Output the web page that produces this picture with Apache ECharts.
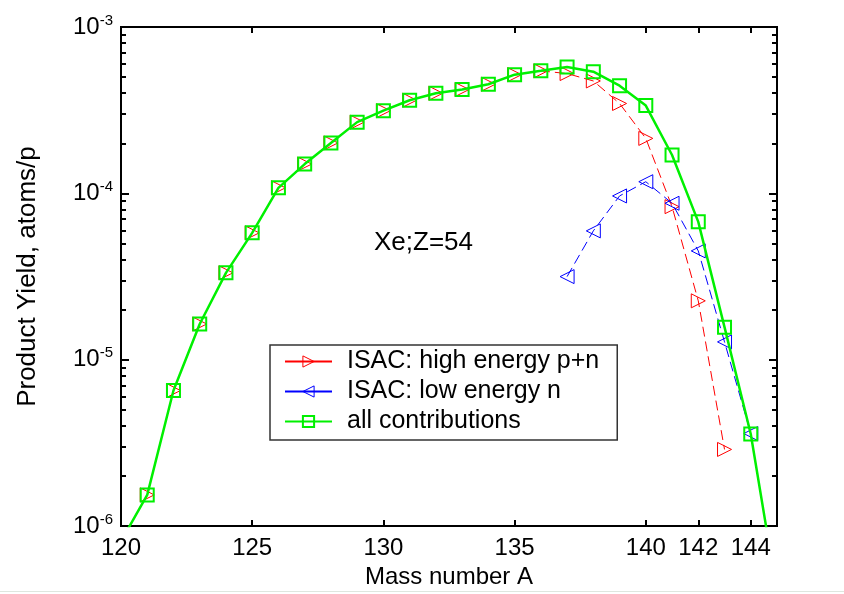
<!DOCTYPE html>
<html>
<head>
<meta charset="utf-8">
<script src="https://cdn.jsdelivr.net/npm/echarts@6/dist/echarts.min.js"></script>
<style>
  html, body { margin: 0; padding: 0; background: #fff; }
  #chart { width: 844px; height: 594px; }
</style>
</head>
<body>
<div id="chart"></div>
<script>
// Xe (Z=54) product yields per incident proton, by mass number
const massAll = [120, 121, 122, 123, 124, 125, 126, 127, 128, 129, 130, 131, 132,
                 133, 134, 135, 136, 137, 138, 139, 140, 141, 142, 143, 144, 145];
const yieldAll = [8.1e-7, 1.54e-6, 6.53e-6, 1.64e-5, 3.33e-5, 5.79e-5, 1.08e-4, 1.50e-4,
                  2.01e-4, 2.68e-4, 3.14e-4, 3.63e-4, 4.00e-4, 4.21e-4, 4.53e-4, 5.17e-4,
                  5.45e-4, 5.75e-4, 5.39e-4, 4.44e-4, 3.37e-4, 1.70e-4, 6.74e-5, 1.57e-5,
                  3.58e-6, 4.0e-7];

const massHigh = [121, 122, 123, 124, 125, 126, 127, 128, 129, 130, 131, 132,
                  133, 134, 135, 136, 137, 138, 139, 140, 141, 142, 143];
const yieldHigh = [1.54e-6, 6.53e-6, 1.64e-5, 3.33e-5, 5.79e-5, 1.08e-4, 1.50e-4, 2.01e-4,
                   2.68e-4, 3.14e-4, 3.63e-4, 4.00e-4, 4.21e-4, 4.53e-4, 5.17e-4, 5.45e-4,
                   5.25e-4, 4.74e-4, 3.47e-4, 2.14e-4, 8.32e-5, 2.26e-5, 2.89e-6];

const massLow = [137, 138, 139, 140, 141, 142, 143, 144];
const yieldLow = [3.16e-5, 5.95e-5, 9.65e-5, 1.175e-4, 8.72e-5, 4.51e-5, 1.28e-5, 3.6e-6];

const xTicks = [120, 125, 130, 135, 140, 142, 144];
const yDecades = [1e-6, 1e-5, 1e-4, 1e-3];

const seriesNames = ['ISAC: high energy p+n', 'ISAC: low energy n', 'all contributions'];
const annotation = 'Xe;Z=54';

// minor log ticks 2..9 inside each decade
const yMinor = [];
for (let d = 0; d < yDecades.length - 1; d++) {
  for (let k = 2; k <= 9; k++) yMinor.push(k * yDecades[d]);
}

const pairs = (xs, ys) => xs.map((x, i) => [x, ys[i]]);
const FONT = '"Liberation Sans", Arial, sans-serif';
const RED = '#ff0000', BLUE = '#0000ff', GREEN = '#00f000';
const HOLLOW = 'rgba(255,255,255,0)';

const supFormatter = (v) => {
  const e = Math.round(Math.log10(v));
  return '{b|10}{s|' + e + '}';
};

function yAxisDef(position, ticks, len, withLabels, name) {
  return {
    type: 'log', logBase: 10, min: 1e-6, max: 1e-3, position,
    gridIndex: 0,
    name: name || '',
    nameLocation: 'middle',
    nameGap: 80,
    nameTextStyle: { fontFamily: FONT, fontSize: 26, color: '#000' },
    axisLine: { show: false },
    splitLine: { show: false },
    axisTick: { show: true, inside: true, length: len, customValues: ticks,
                lineStyle: { color: '#000', width: 2 } },
    axisLabel: {
      show: withLabels, customValues: ticks, margin: 8,
      formatter: supFormatter,
      rich: {
        b: { fontFamily: FONT, fontSize: 24, color: '#000', lineHeight: 28 },
        s: { fontFamily: FONT, fontSize: 15, color: '#000', verticalAlign: 'top', padding: [0, 0, 12, 0] }
      }
    }
  };
}

function xAxisDef(position, withLabels, name) {
  return {
    type: 'value', min: 120, max: 145, position,
    name: name || '',
    nameLocation: 'middle',
    nameGap: 36,
    nameTextStyle: { fontFamily: FONT, fontSize: 24, color: '#000' },
    axisLine: { show: false },
    splitLine: { show: false },
    axisTick: { show: true, inside: true, length: 6, customValues: xTicks,
                lineStyle: { color: '#000', width: 2 } },
    axisLabel: { show: withLabels, customValues: xTicks, margin: 10,
                 fontFamily: FONT, fontSize: 24, color: '#000' }
  };
}

const chart = echarts.init(document.getElementById('chart'), null, { renderer: 'canvas' });

chart.setOption({
  backgroundColor: '#fff',
  animation: false,
  grid: {
    left: 121, right: 67, top: 27, bottom: 67,
    show: true, borderColor: '#000', borderWidth: 2, backgroundColor: 'transparent'
  },
  xAxis: [
    xAxisDef('bottom', true, 'Mass number A'),
    xAxisDef('top', false)
  ],
  yAxis: [
    yAxisDef('left', yDecades, 8, true, 'Product Yield, atoms/p'),
    yAxisDef('left', yMinor, 5, false),
    yAxisDef('right', yDecades, 8, false),
    yAxisDef('right', yMinor, 5, false)
  ],
  legend: {
    left: 270, top: 345,
    orient: 'vertical',
    backgroundColor: '#fff',
    borderColor: '#333', borderWidth: 1.5,
    padding: [4, 18, 6, 14],
    itemGap: 5,
    itemWidth: 47, itemHeight: 14,
    textStyle: { fontFamily: FONT, fontSize: 25, color: '#000', padding: [0, 0, 0, 10] },
    lineStyle: { type: 'solid' },
    data: [
      { name: seriesNames[0], itemStyle: { color: HOLLOW, borderColor: RED, borderWidth: 1 } },
      { name: seriesNames[1], itemStyle: { color: HOLLOW, borderColor: BLUE, borderWidth: 1 } },
      { name: seriesNames[2], itemStyle: { color: HOLLOW, borderColor: GREEN, borderWidth: 2 } }
    ]
  },
  graphic: [
    { type: 'text', left: 374, top: 230,
      style: { text: annotation, fontFamily: FONT, fontSize: 26, fill: '#000' } },
    { type: 'rect', left: 0, top: 591, shape: { width: 844, height: 1 },
      style: { fill: '#dfe6df' } }
  ],
  series: [
    {
      name: seriesNames[0], type: 'line', xAxisIndex: 0, yAxisIndex: 0,
      data: pairs(massHigh, yieldHigh),
      symbol: 'triangle', symbolSize: 14, symbolRotate: -90,
      lineStyle: { color: RED, width: 1, type: [10, 5] },
      itemStyle: { color: HOLLOW, borderColor: RED, borderWidth: 1 },
      showAllSymbol: true, clip: true, z: 2,
      emphasis: { disabled: true }
    },
    {
      name: seriesNames[1], type: 'line', xAxisIndex: 0, yAxisIndex: 0,
      data: pairs(massLow, yieldLow),
      symbol: 'triangle', symbolSize: 14, symbolRotate: 90,
      lineStyle: { color: BLUE, width: 1, type: [10, 5] },
      itemStyle: { color: HOLLOW, borderColor: BLUE, borderWidth: 1 },
      showAllSymbol: true, clip: true, z: 3,
      emphasis: { disabled: true }
    },
    {
      name: seriesNames[2], type: 'line', xAxisIndex: 0, yAxisIndex: 0,
      data: pairs(massAll, yieldAll),
      symbol: 'rect', symbolSize: 13,
      lineStyle: { color: GREEN, width: 2.5 },
      itemStyle: { color: HOLLOW, borderColor: GREEN, borderWidth: 2 },
      showAllSymbol: true, clip: true, z: 4,
      emphasis: { disabled: true }
    }
  ]
});
</script>
</body>
</html>
